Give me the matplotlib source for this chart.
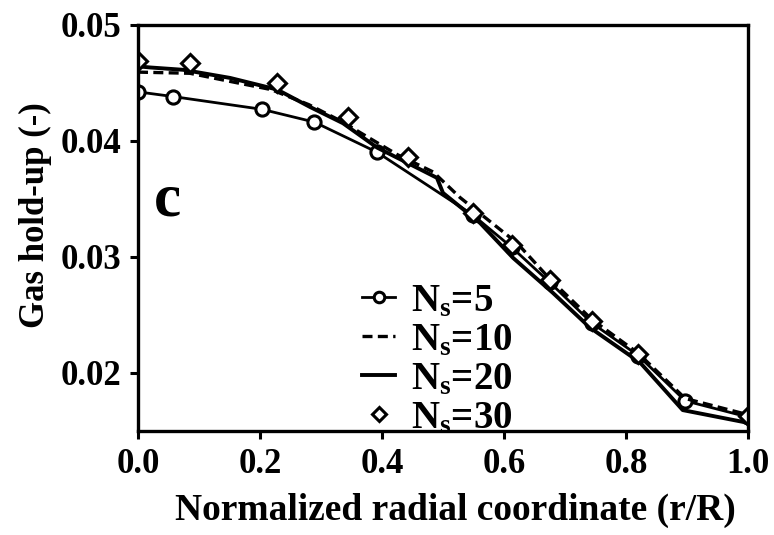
import matplotlib
matplotlib.use("Agg")
import matplotlib.pyplot as plt

plt.rcParams["font.family"] = ["Liberation Serif", "DejaVu Serif"]
plt.rcParams["font.weight"] = "bold"
plt.rcParams["mathtext.default"] = "regular"

# Radial gas hold-up profiles for different numbers of size classes
r_ns5 = [0.0, 0.057, 0.203, 0.289, 0.392, 0.549, 0.613, 0.675, 0.744, 0.82, 0.897, 1.0]
g_ns5 = [0.0442, 0.0438, 0.0427, 0.0416, 0.0390, 0.0336, 0.0308, 0.0278, 0.0243, 0.0215, 0.0176, 0.0162]

r_ns10 = [0.0, 0.085, 0.151, 0.218, 0.28, 0.336, 0.364, 0.425, 0.484, 0.528, 0.621, 0.675, 0.744, 0.82, 0.897, 1.0]
g_ns10 = [0.0459, 0.0458, 0.0451, 0.0444, 0.0431, 0.0416, 0.0407, 0.0388, 0.0373, 0.0351, 0.0312, 0.0281, 0.0246, 0.0217, 0.0178, 0.0164]

r_ns20 = [0.0, 0.02, 0.074, 0.151, 0.228, 0.282, 0.336, 0.392, 0.49, 0.5, 0.561, 0.615, 0.68, 0.741, 0.823, 0.893, 1.0]
g_ns20 = [0.0464, 0.0463, 0.0461, 0.0454, 0.0444, 0.0429, 0.0415, 0.0394, 0.0368, 0.0355, 0.0329, 0.0299, 0.0269, 0.0239, 0.0209, 0.0168, 0.0157]

r_ns30 = [0.0, 0.085, 0.228, 0.345, 0.443, 0.549, 0.613, 0.675, 0.744, 0.82, 1.0]
g_ns30 = [0.0469, 0.0467, 0.0450, 0.0420, 0.0386, 0.0338, 0.0310, 0.0280, 0.0245, 0.0216, 0.0163]

x_ticks = [0.0, 0.2, 0.4, 0.6, 0.8, 1.0]
y_ticks = [0.02, 0.03, 0.04, 0.05]

fig = plt.figure(figsize=(7.74, 5.35), dpi=100)
ax = fig.add_axes([0.1783, 0.1944, 0.7881, 0.7598])

ax.plot(r_ns5, g_ns5, color="black", lw=2.0, marker="o", ms=9.5,
        mfc="white", mec="black", mew=2.2, label="N$_s$=5")
ax.plot(r_ns10, g_ns10, color="black", lw=2.4, ls=(0, (3.0, 1.6)), label="N$_s$=10")
ax.plot(r_ns20, g_ns20, color="black", lw=2.8, label="N$_s$=20")
ax.plot(r_ns30, g_ns30, ls="none", marker="D", ms=9, mfc="white",
        mec="black", mew=2.2, label="N$_s$=30")

ax.set_xlim(0.0, 1.0)
ax.set_ylim(0.015, 0.05)
ax.set_xticks(x_ticks)
ax.set_yticks(y_ticks)
ax.set_xticklabels([f"{v:.1f}" for v in x_ticks])
ax.set_yticklabels([f"{v:.2f}" for v in y_ticks])

for s in ax.spines.values():
    s.set_linewidth(2.4)
ax.tick_params(axis="both", direction="out", length=6, width=2.2,
               labelsize=25, pad=6)

ax.set_xlabel("Normalized radial coordinate (r/R)", fontsize=27,
              fontweight="bold", va="center")
ax.set_ylabel("Gas hold-up (-)", fontsize=25, fontweight="bold", va="center")
ax.xaxis.set_label_coords(0.521, -0.195)
ax.yaxis.set_label_coords(-0.168, 0.53)

ax.text(0.026, 0.566, "c", transform=ax.transAxes, fontsize=44,
        fontweight="bold", ha="left", va="center")

leg = ax.legend(loc="upper left", bbox_to_anchor=(362 / 774, 1 - 283 / 535),
                bbox_transform=fig.transFigure, frameon=False, fontsize=28,
                handlelength=0.85, handletextpad=0.4, labelspacing=0.05,
                borderpad=0.0, borderaxespad=0.0, markerscale=0.8)

fig.savefig("out.png", dpi=100)
